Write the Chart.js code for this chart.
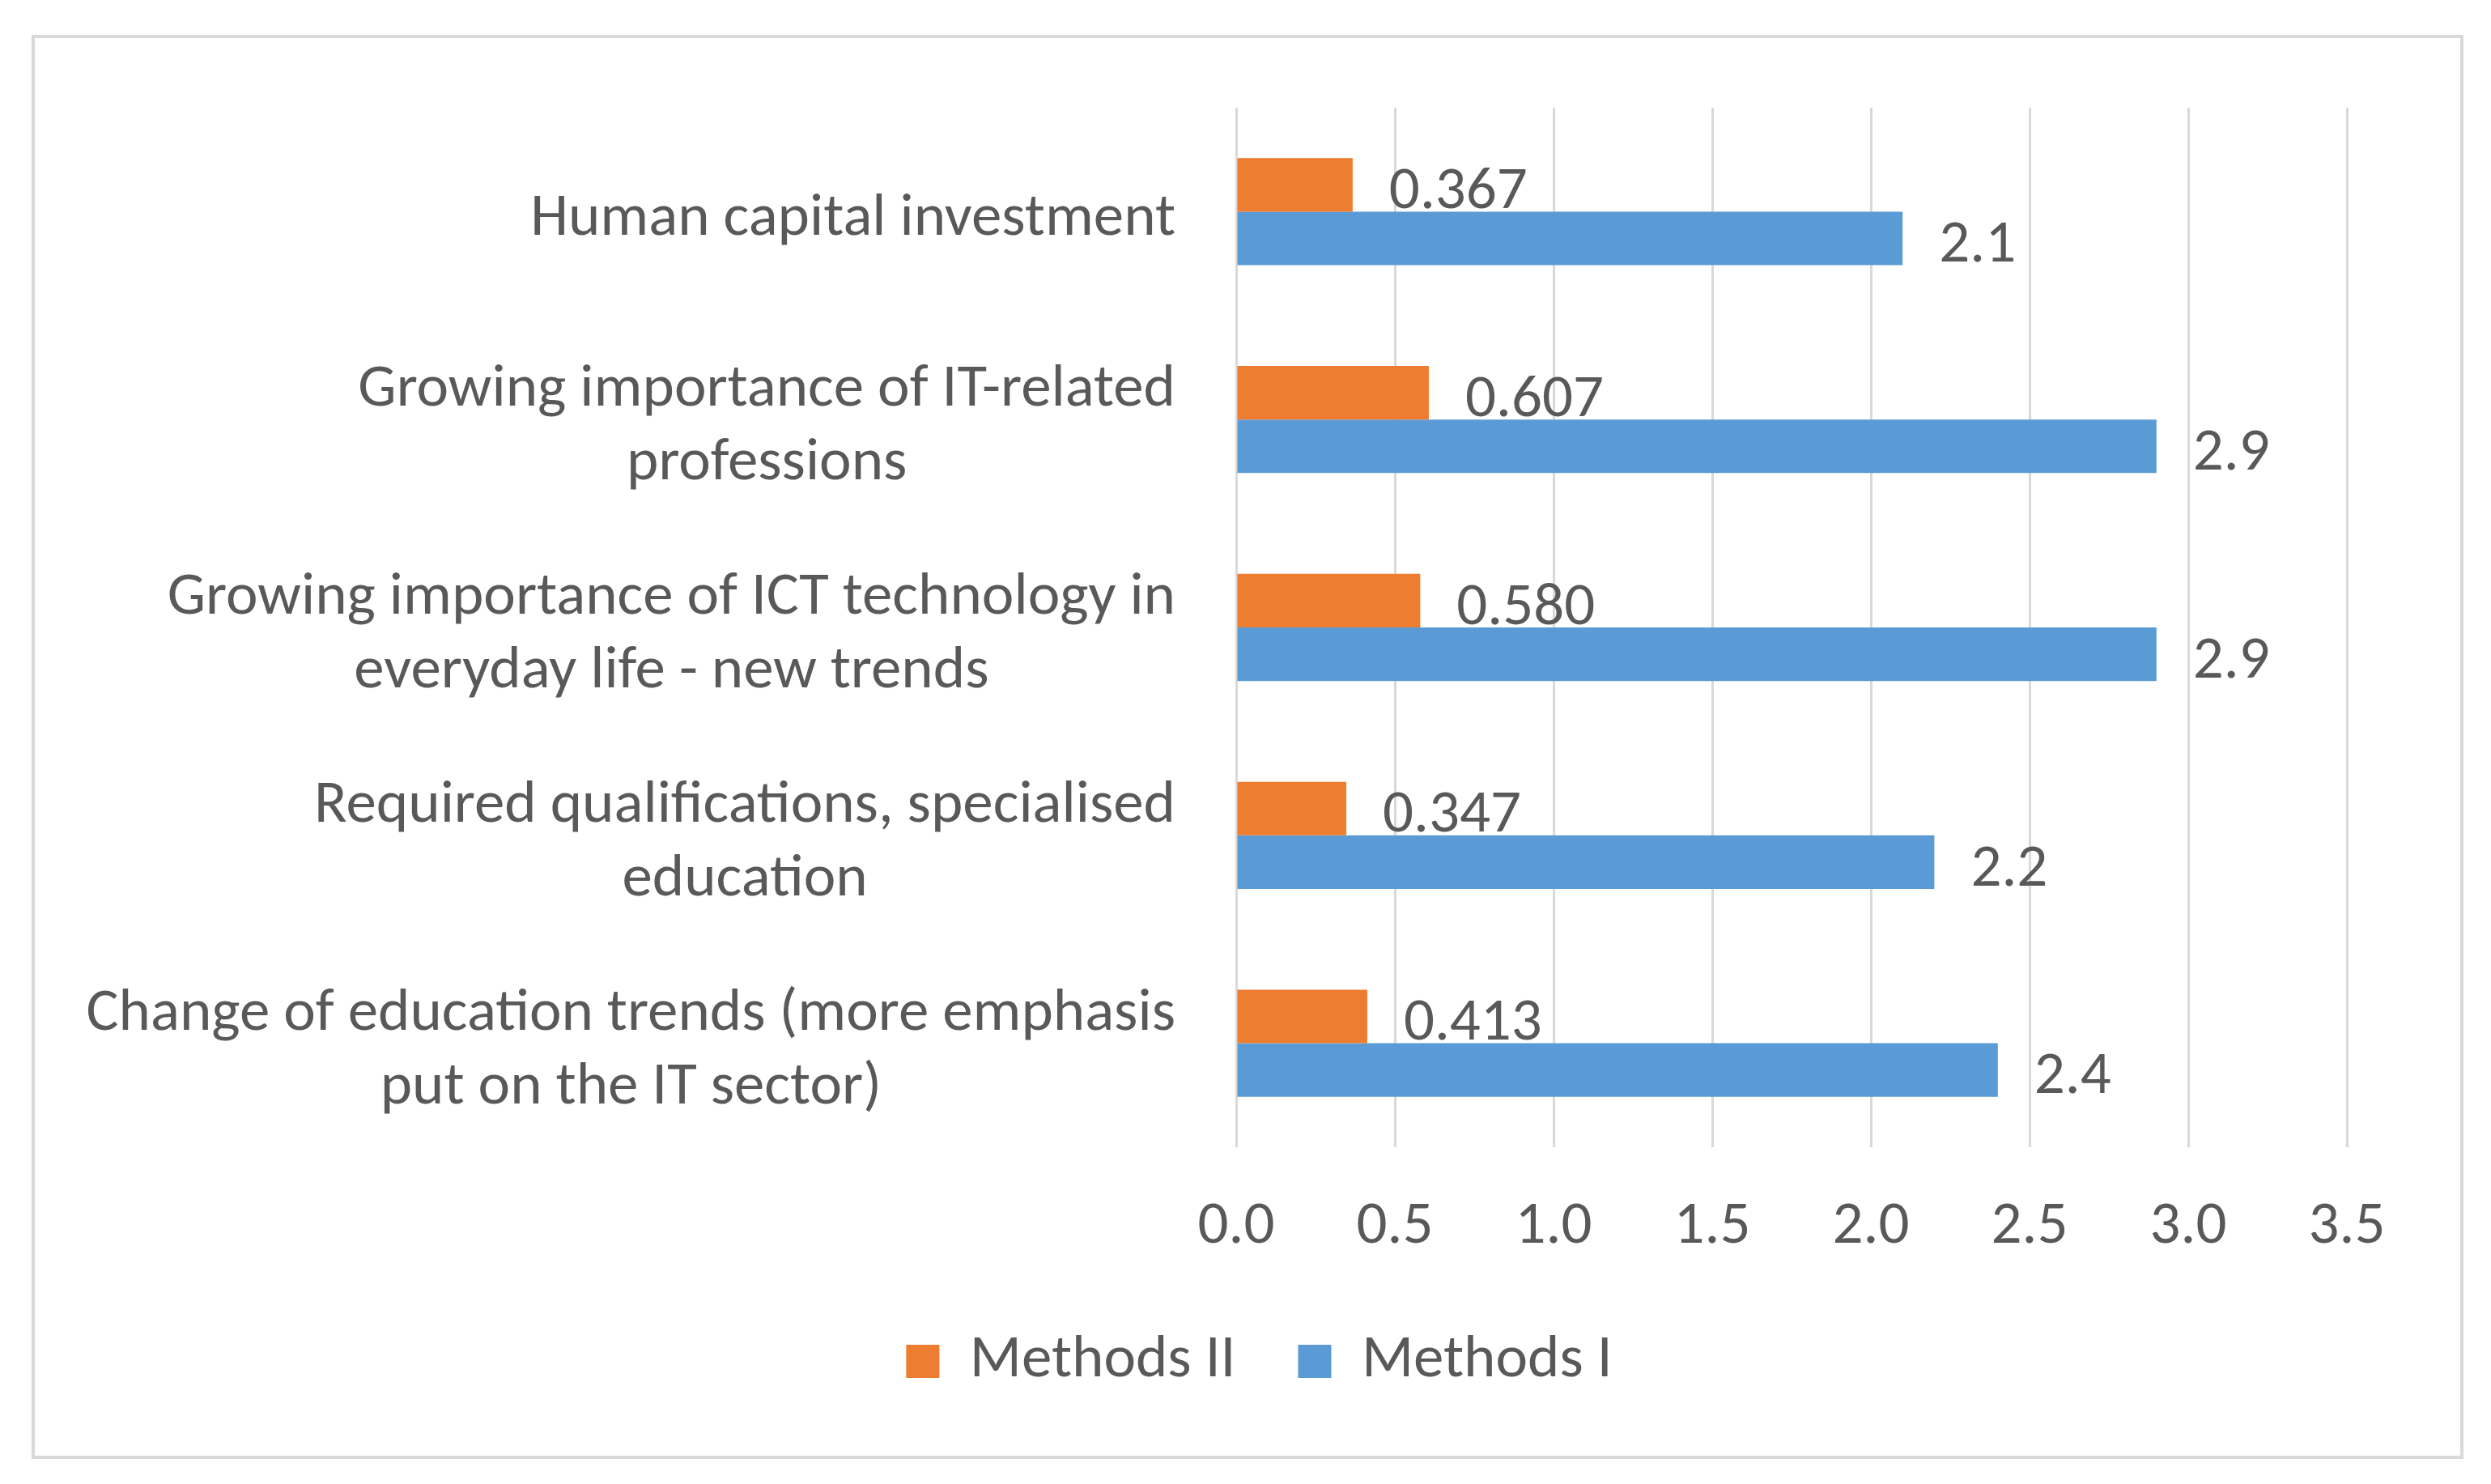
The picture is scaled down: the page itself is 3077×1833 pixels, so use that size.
<!DOCTYPE html>
<html>
<head>
<meta charset="utf-8">
<script src="https://cdn.jsdelivr.net/npm/chart.js@4"></script>
<style>
  html, body { margin: 0; padding: 0; background: #ffffff; }
  body { width: 3077px; height: 1833px; position: relative; overflow: hidden; }
  #frame { position: absolute; left: 39px; top: 43px; width: 2996px; height: 1751px; border: 4px solid #d9d9d9; pointer-events: none; }
  #wrap { position: absolute; left: 0; top: 0; width: 3077px; height: 1833px; }
</style>
</head>
<body>
<div id="wrap"><canvas id="c" width="3077" height="1833"></canvas></div>
<div id="frame"></div>
<script>
const categories = [
  "Human capital investment",
  ["Growing importance of IT-related", "professions"],
  ["Growing importance of ICT technology in", "everyday life - new trends"],
  ["Required qualifications, specialised", "education"],
  ["Change of education trends (more emphasis", "put on the IT sector)"]
];
const methodsII = [0.367, 0.607, 0.580, 0.347, 0.413];
const methodsI = [2.1, 2.9, 2.9, 2.2, 2.4];
const seriesNames = ["Methods II", "Methods I"];
const xTicks = [0, 0.5, 1.0, 1.5, 2.0, 2.5, 3.0, 3.5];

const FONT = "Carlito, Lato, 'Open Sans', sans-serif";
const FSIZE = 75;
const TXT = "#595959";

const valueLabels = {
  id: "valueLabels",
  afterDatasetsDraw(chart) {
    const ctx = chart.ctx;
    ctx.save();
    ctx.font = FSIZE + "px " + FONT;
    ctx.fillStyle = TXT;
    ctx.textAlign = "left";
    ctx.textBaseline = "middle";
    chart.data.datasets.forEach((ds, di) => {
      const meta = chart.getDatasetMeta(di);
      meta.data.forEach((bar, i) => {
        const v = ds.data[i];
        const txt = di === 0 ? v.toFixed(3) : v.toFixed(1);
        ctx.fillText(txt, bar.x + 45, bar.y + 10);
      });
    });
    ctx.restore();
  }
};

const catLabels = {
  id: "catLabels",
  afterDraw(chart) {
    const ctx = chart.ctx;
    const ys = chart.scales.y;
    const right = chart.chartArea.left - 75;
    const lh = 91;
    ctx.save();
    ctx.font = FSIZE + "px " + FONT;
    ctx.fillStyle = TXT;
    ctx.textBaseline = "middle";
    ctx.textAlign = "center";
    chart.data.labels.forEach((lab, i) => {
      const lines = Array.isArray(lab) ? lab : [lab];
      const w = Math.max(...lines.map(l => ctx.measureText(l).width));
      const cx = right - w / 2;
      const cy = ys.getPixelForValue(i) + 10;
      const y0 = cy - (lines.length - 1) * lh / 2;
      lines.forEach((l, k) => ctx.fillText(l, cx, y0 + k * lh));
    });
    ctx.restore();
  }
};

new Chart(document.getElementById("c"), {
  type: "bar",
  data: {
    labels: categories,
    datasets: [
      { label: seriesNames[0], data: methodsII, backgroundColor: "#ED7D31", borderWidth: 0 },
      { label: seriesNames[1], data: methodsI, backgroundColor: "#5B9BD5", borderWidth: 0 }
    ]
  },
  options: {
    indexAxis: "y",
    responsive: false,
    animation: false,
    devicePixelRatio: 1,
    categoryPercentage: 0.515,
    barPercentage: 1.0,
    layout: { padding: { left: 34, right: 0, top: 133, bottom: 104 } },
    plugins: {
      legend: {
        position: "bottom",
        labels: {
          color: TXT,
          font: { family: FONT, size: FSIZE },
          boxWidth: 41,
          boxHeight: 41,
          padding: 77
        }
      },
      tooltip: { enabled: false }
    },
    scales: {
      x: {
        min: 0,
        max: 3.5,
        afterBuildTicks(scale) { scale.ticks = xTicks.map(v => ({ value: v })); },
        afterFit(scale) { scale.height = 150; },
        ticks: {
          color: TXT,
          font: { family: FONT, size: FSIZE },
          padding: 54,
          callback: (v) => Number(v).toFixed(1)
        },
        grid: { color: "#d9d9d9", lineWidth: 3, drawTicks: false },
        border: { display: false }
      },
      y: {
        display: true,
        afterFit(scale) { scale.width = 1527 - 34; },
        ticks: { display: false },
        grid: { display: false },
        border: { display: false }
      },
      y2: {
        type: "category",
        position: "right",
        display: true,
        afterFit(scale) { scale.width = 178; },
        ticks: { display: false },
        grid: { display: false },
        border: { display: false }
      }
    }
  },
  plugins: [valueLabels, catLabels]
});
</script>
</body>
</html>
